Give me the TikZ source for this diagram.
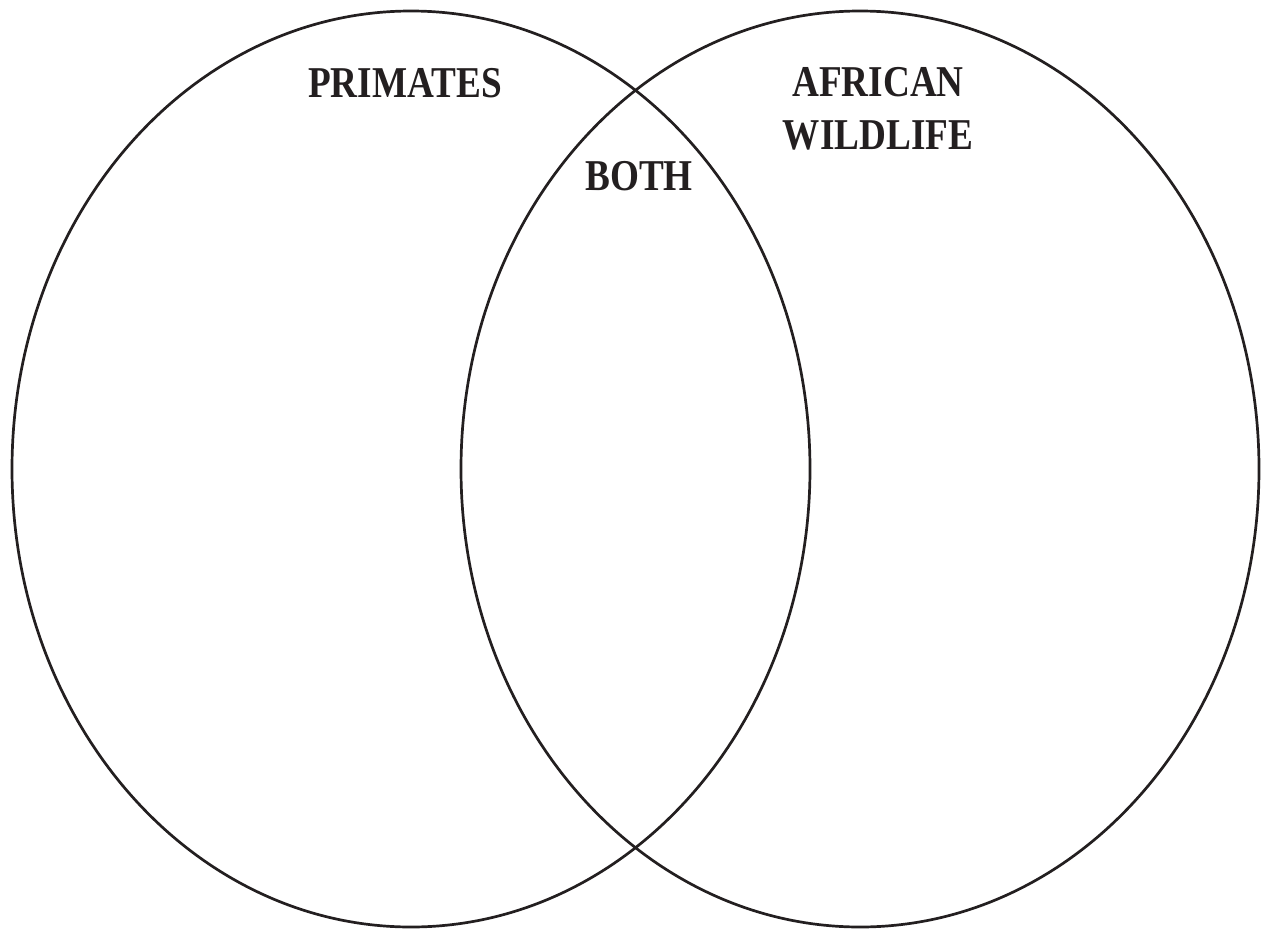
\documentclass[tikz,border=0pt]{standalone}
\usepackage{fontspec}
\setmainfont{Liberation Serif}
\definecolor{ink}{HTML}{231F20}
\begin{document}
\begin{tikzpicture}[x=1pt,y=-1pt,
  setline/.style={draw=ink,line width=2.7pt},
  lab/.style={text=ink,font=\bfseries\fontsize{40}{48}\selectfont,align=center,inner sep=0pt,xscale=0.93,yscale=1.1}]
\useasboundingbox (0,0) rectangle (1269,930);
\draw[setline] (411,469) ellipse [x radius=399, y radius=458];
\draw[setline] (860,469) ellipse [x radius=399, y radius=458];
\node[lab] (prim) at (405,83) {PRIMATES};
\node[lab] (both) at (639,176) {BOTH};
\node[lab] (afr) at (878,109) {AFRICAN\\WILDLIFE};
\end{tikzpicture}
\end{document}
